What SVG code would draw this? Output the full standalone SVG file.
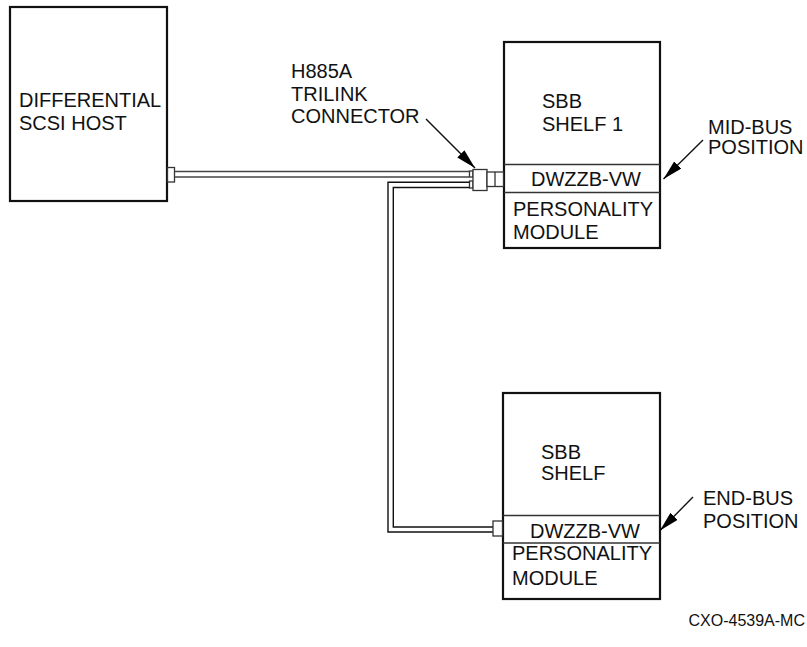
<svg xmlns="http://www.w3.org/2000/svg" width="807" height="647" viewBox="0 0 807 647">
  <defs>
    <marker id="arrow" viewBox="0 0 20 10" refX="20" refY="5" markerWidth="20" markerHeight="10" markerUnits="userSpaceOnUse" orient="auto">
      <path d="M0,0 L20,5 L0,10 z" fill="#000"/>
    </marker>
  </defs>
  <style>
    text { font-family: "Liberation Sans", Arial, sans-serif; font-size: 20px; fill: #111; }
    .box { fill: #fff; stroke: #111; stroke-width: 2.2; }
    .row { stroke: #333; stroke-width: 1.3; }
    .cable { fill: none; stroke: #444; stroke-width: 1.6; }
    .cable2 { fill: none; stroke: #111; stroke-width: 1.4; }
    .part { fill: #fff; stroke: #333; stroke-width: 1.3; }
    .lead { fill: none; stroke: #111; stroke-width: 1.4; marker-end: url(#arrow); }
    .small { font-size: 16px; }
  </style>

  <!-- host -->
  <g id="host">
    <rect class="box" x="10" y="7" width="157" height="194"/>
    <text x="19" y="107">DIFFERENTIAL</text>
    <text x="19" y="130">SCSI HOST</text>
    <rect class="part" x="167.5" y="167.5" width="7" height="14.5"/>
  </g>

  <!-- shelf 1 (mid-bus) -->
  <g id="shelf1">
    <rect class="box" x="504" y="42" width="156" height="206"/>
    <line class="row" x1="504" y1="164.5" x2="660" y2="164.5"/>
    <line class="row" x1="504" y1="192.5" x2="660" y2="192.5"/>
    <text x="542" y="108">SBB</text>
    <text x="542" y="131">SHELF 1</text>
    <text x="531" y="186">DWZZB-VW</text>
    <text x="513" y="216">PERSONALITY</text>
    <text x="513" y="239">MODULE</text>
  </g>

  <!-- end shelf -->
  <g id="shelf2">
    <rect class="box" x="503" y="393" width="157" height="206"/>
    <line class="row" x1="503" y1="515.5" x2="660" y2="515.5"/>
    <line class="row" x1="503" y1="543" x2="660" y2="543"/>
    <text x="541" y="459">SBB</text>
    <text x="541" y="480">SHELF</text>
    <text x="530" y="538">DWZZB-VW</text>
    <text x="512" y="560">PERSONALITY</text>
    <text x="512" y="585">MODULE</text>
  </g>

  <!-- trilink connector -->
  <g id="trilink">
    <rect class="part" x="469.5" y="171" width="3.5" height="6"/>
    <rect class="part" x="469.5" y="181" width="3.5" height="7"/>
    <rect class="part" x="473" y="169.5" width="14" height="21"/>
    <rect class="part" x="487" y="172" width="16.5" height="14.5"/>
    <line class="row" x1="495" y1="172" x2="495" y2="186.5"/>
  </g>

  <!-- cables -->
  <g id="connectors">
    <path class="cable" d="M174.5,171.5 H469.5 M174.5,177 H469.5"/>
    <path class="cable2" d="M469.5,182.3 H388 V532 H493"/>
    <path class="cable2" d="M469.5,187.5 H393.3 V527 H493"/>
    <rect class="part" x="493" y="521" width="9.5" height="15"/>
  </g>

  <!-- callouts -->
  <g id="label-trilink">
    <text x="291" y="78">H885A</text>
    <text x="291" y="101">TRILINK</text>
    <text x="291" y="123">CONNECTOR</text>
    <line class="lead" x1="426" y1="119" x2="475" y2="168"/>
  </g>
  <g id="label-midbus">
    <text x="708" y="134">MID-BUS</text>
    <text x="708" y="154">POSITION</text>
    <line class="lead" x1="703" y1="140" x2="663.5" y2="179"/>
  </g>
  <g id="label-endbus">
    <text x="703" y="505">END-BUS</text>
    <text x="703" y="528">POSITION</text>
    <line class="lead" x1="693" y1="497" x2="660" y2="530.5"/>
  </g>

  <text class="small" x="805" y="626" text-anchor="end">CXO-4539A-MC</text>
</svg>
